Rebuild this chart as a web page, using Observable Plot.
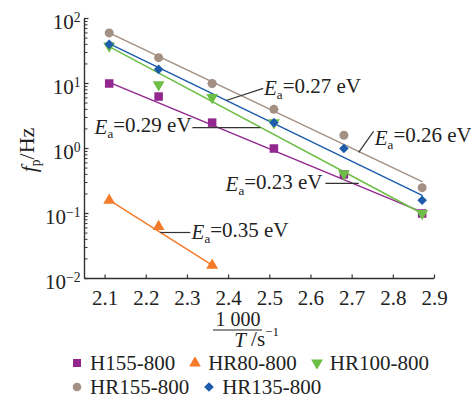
<!DOCTYPE html>
<html><head><meta charset="utf-8">
<script src="https://cdn.jsdelivr.net/npm/d3@7"></script>
<script src="https://cdn.jsdelivr.net/npm/@observablehq/plot@0.6"></script>
<style>
body{margin:0;background:#fff;font-family:"Liberation Serif","Times New Roman",Times,"DejaVu Serif",serif;}
#wrap{position:relative;width:471px;height:397px;overflow:hidden;}
#legend{position:absolute;left:71px;top:351px;font-size:21px;color:#222;}
.row{display:flex;align-items:center;height:24px;gap:14px;}
.item{display:flex;align-items:center;gap:7px;white-space:nowrap;line-height:1;}
.item svg{display:block;}
svg text{font-family:"Liberation Serif","Times New Roman",Times,"DejaVu Serif",serif;}
</style></head><body><div id="wrap"><div id="legend"></div></div>
<script>
// ---- data ----
const seriesNames = ["H155-800", "HR80-800", "HR100-800", "HR155-800", "HR135-800"];
const seriesColors = ["#92278F", "#F47B2A", "#6DBE45", "#A39083", "#1D5CAB"];
const xValues = [2.11, 2.23, 2.36, 2.51, 2.68, 2.87];
const h155 = [10, 6.3, 2.5, 1.0, 0.4, 0.1];
const hr80 = [0.16, 0.063, 0.016];
const hr100 = [38, 9.6, 6.1, 2.5, 0.41, 0.1];
const hr155 = [60, 25, 10, 4.0, 1.6, 0.25];
const hr135 = [40, 16.5, 10, 2.5, 1.0, 0.16];
// fitted lines (end points)
const fitX = [2.11, 2.87];
const fitX80 = [2.11, 2.36];
const fitH155 = [10.4, 0.105];
const fitHR80 = [0.16, 0.016];
const fitHR100 = [37, 0.1];
const fitHR155 = [60, 0.31];
const fitHR135 = [41, 0.19];
// ticks
const xTicks = [2.1, 2.2, 2.3, 2.4, 2.5, 2.6, 2.7, 2.8, 2.9];
const yMajorTicks = [0.01, 0.1, 1, 10, 100];
const yTickLabels = ["10^-2", "10^-1", "10^0", "10^1", "10^2"];
// annotations
const annLabels = ["E_a=0.27 eV", "E_a=0.29 eV", "E_a=0.26 eV", "E_a=0.23 eV", "E_a=0.35 eV"];
const annAnchor = ["start", "end", "start", "end", "start"];
const annLeaderX1 = [2.394, 2.312, 2.716, 2.635, 2.234];
const annLeaderY1 = [5.47, 2.1, 0.87, 0.29, 0.051];
const annLeaderX2 = [2.484, 2.477, 2.752, 2.716, 2.307];
const annLeaderY2 = [8.4, 2.1, 1.83, 0.29, 0.051];
const annTextX = [2.486, 2.31, 2.755, 2.628, 2.31];
const annTextY = [8.4, 2.1, 1.45, 0.28, 0.051];

// ---- build tables ----
const seriesVals = [h155, hr80, hr100, hr155, hr135];
const points = seriesVals.map((vals, s) => vals.map((v, i) => ({x: xValues[i], y: v, s: seriesNames[s]})));
const fitYs = [fitH155, fitHR80, fitHR100, fitHR155, fitHR135];
const fits = fitYs.flatMap((ys, s) => ys.map((v, i) => ({x: (s === 1 ? fitX80 : fitX)[i], y: v, s: seriesNames[s]})));
const yMinorTicks = [];
for (let e = -2; e < 2; e++) for (let m = 2; m <= 9; m++) yMinorTicks.push(m * Math.pow(10, e));

// ---- symbols ----
const sqrt3 = Math.sqrt(3);
const triangleDown = {draw(c, size) {
  const y = -Math.sqrt(size / (sqrt3 * 3));
  c.moveTo(0, -y * 2); c.lineTo(-sqrt3 * y, y); c.lineTo(sqrt3 * y, y); c.closePath();
}};
const hTick = (len) => ({draw(c) { c.moveTo(0, 0); c.lineTo(len, 0); }});
const vTick = (len) => ({draw(c) { c.moveTo(0, 0); c.lineTo(0, -len); }});
const seriesSymbols = ["square", "triangle", triangleDown, "circle", "diamond2"];
const seriesR = [4.8, 4.4, 4.4, 4.5, 4.3];
const drawOrder = [0, 1, 2, 4, 3];
const axisColor = "#333";
const FONT = "'Liberation Serif', 'Times New Roman', Times, 'DejaVu Serif', serif";
const ann = d3.range(annLabels.length);

const plot = Plot.plot({
  width: 471, height: 355,
  marginTop: 18, marginBottom: 77, marginLeft: 84, marginRight: 37,
  style: {fontFamily: FONT, fontSize: "20px", color: "#222", background: "white"},
  x: {domain: [2.05, 2.9]},
  y: {type: "log", domain: [0.01, 100]},
  color: {domain: seriesNames, range: seriesColors},
  marks: [
    Plot.ruleX([2.05], {stroke: axisColor, strokeWidth: 1.4}),
    Plot.ruleY([0.01], {stroke: axisColor, strokeWidth: 1.4}),
    Plot.dot(yMajorTicks, {y: d => d, frameAnchor: "left", symbol: hTick(4), stroke: axisColor, fill: "none", strokeWidth: 1.2}),
    Plot.dot(yMinorTicks, {y: d => d, frameAnchor: "left", symbol: hTick(3), stroke: axisColor, fill: "none", strokeWidth: 1}),
    Plot.dot(xTicks, {x: d => d, frameAnchor: "bottom", symbol: vTick(4), stroke: axisColor, fill: "none", strokeWidth: 1.2}),
    Plot.axisY(yMajorTicks, {tickSize: 0, tickPadding: 4, dy: 4, fontSize: 21, label: null,
      tickFormat: d => yTickLabels[yMajorTicks.indexOf(d)]}),
    Plot.axisX(xTicks, {tickSize: 0, tickPadding: 12, fontSize: 21, label: null, tickFormat: d3.format(".1f")}),
    Plot.line(fits, {x: "x", y: "y", z: "s", stroke: "s", strokeWidth: 1.5}),
    Plot.link(ann, {x1: i => annLeaderX1[i], y1: i => annLeaderY1[i], x2: i => annLeaderX2[i], y2: i => annLeaderY2[i], stroke: axisColor, strokeWidth: 1.2}),
    Plot.text(ann.filter(i => annAnchor[i] === "start"), {x: i => annTextX[i], y: i => annTextY[i], text: i => annLabels[i], textAnchor: "start", fontSize: 21, fill: "#222"}),
    Plot.text(ann.filter(i => annAnchor[i] === "end"), {x: i => annTextX[i], y: i => annTextY[i], text: i => annLabels[i], textAnchor: "end", fontSize: 21, fill: "#222"}),
    ...drawOrder.map(s => Plot.dot(points[s], {x: "x", y: "y", fill: "s", symbol: seriesSymbols[s], r: seriesR[s], stroke: "none"}))
  ]
});

// ---- rich text post-processing ----
const NS = "http://www.w3.org/2000/svg";
function tspan(parent, txt, attrs = {}) {
  const t = document.createElementNS(NS, "tspan");
  for (const k in attrs) t.setAttribute(k, attrs[k]);
  t.textContent = txt; parent.appendChild(t); return t;
}
plot.querySelectorAll("text").forEach(t => {
  const s = t.textContent;
  let m;
  if ((m = s.match(/^10\^(-?\d+)$/))) {
    t.textContent = "";
    tspan(t, "10");
    tspan(t, m[1].replace("-", "\u2212"), {dy: "-0.55em", "font-size": "0.65em"});
  } else if ((m = s.match(/^E_a(.*)$/))) {
    t.textContent = "";
    tspan(t, "E", {"font-style": "italic"});
    tspan(t, "a", {dy: "0.3em", "font-size": "0.62em"});
    tspan(t, m[1], {dy: "-0.3em"});
  }
});
const svg = d3.select(plot);
// y label
const yl = svg.append("text").attr("transform", "translate(36,150) rotate(-90)")
  .attr("text-anchor", "middle").attr("font-size", 22).attr("fill", "#222");
yl.append("tspan").attr("font-style", "italic").text("f");
yl.append("tspan").attr("dy", "0.3em").attr("font-size", "0.62em").text("p");
yl.append("tspan").attr("dy", "-0.3em").text("/Hz");
// x label (fraction)
const xg = svg.append("g").attr("fill", "#222").attr("font-size", 20);
xg.append("text").attr("x", 238).attr("y", 326).attr("text-anchor", "middle").text("1 000");
xg.append("line").attr("x1", 213).attr("x2", 262).attr("y1", 330).attr("y2", 330).attr("stroke", "#222").attr("stroke-width", 1.2);
xg.append("text").attr("x", 240).attr("y", 347).attr("text-anchor", "middle").attr("font-style", "italic").attr("font-size", 21).text("T");
const su = xg.append("text").attr("x", 265).attr("y", 346).attr("font-size", 21);
su.append("tspan").text("/s");
su.append("tspan").attr("dy", "-0.8em").attr("font-size", "0.62em").text("\u22121");

document.getElementById("wrap").prepend(plot);

// ---- legend ----
const legend = document.getElementById("legend");
const rows = [[0, 1, 2], [3, 4]];
rows.forEach(r => {
  const row = document.createElement("div"); row.className = "row";
  r.forEach(s => {
    const item = document.createElement("div"); item.className = "item";
    const sym = typeof seriesSymbols[s] === "string"
      ? {square: d3.symbolSquare, triangle: d3.symbolTriangle, circle: d3.symbolCircle, diamond2: d3.symbolDiamond2}[seriesSymbols[s]]
      : seriesSymbols[s];
    const sz = s === 3 ? 14 * 14 * 0.3 : 60;
    const path = d3.symbol(sym, s === 0 ? 64 : sz)();
    item.innerHTML = `<svg width="12" height="12" viewBox="-6 -6 12 12"><path d="${path}" fill="${seriesColors[s]}"/></svg><span>${seriesNames[s]}</span>`;
    row.appendChild(item);
  });
  legend.appendChild(row);
});
</script></body></html>
